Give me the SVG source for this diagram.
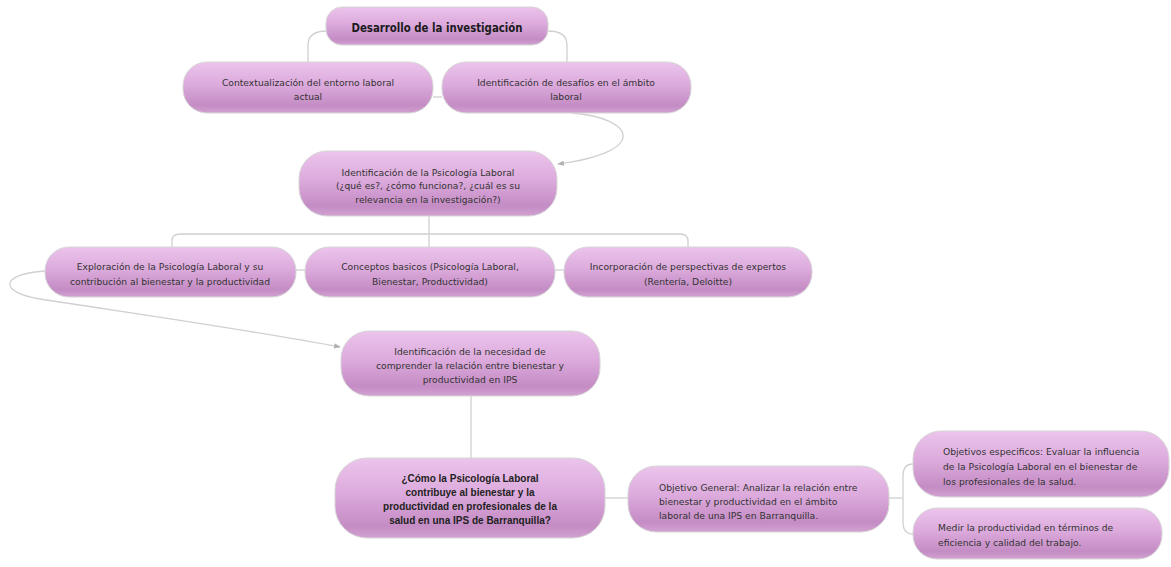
<svg xmlns="http://www.w3.org/2000/svg" width="1171" height="567" viewBox="0 0 1171 567">
<defs>
<linearGradient id="g" x1="0" y1="0" x2="0" y2="1">
<stop offset="0" stop-color="#ebc4eb"/>
<stop offset="0.45" stop-color="#dcaadc"/>
<stop offset="0.85" stop-color="#c48cc4"/>
<stop offset="1" stop-color="#d2a2d2"/>
</linearGradient>
<marker id="arr" viewBox="0 0 10 10" refX="9" refY="5" markerWidth="5" markerHeight="5" orient="auto-start-reverse">
<path d="M0,1 L10,5 L0,9 z" fill="#b0b0b0"/>
</marker>
<style>
.n{fill:url(#g);stroke:#d6d6d6;stroke-width:1}
.t{font-family:"DejaVu Sans","Liberation Sans",sans-serif;font-size:9.2px;fill:#333333;text-anchor:middle}
.l{text-anchor:start}
.b{font-family:"Liberation Sans",Arial,sans-serif;font-weight:bold;font-size:10px;fill:#222;text-anchor:middle}
.c{fill:none;stroke:#d0d0d0;stroke-width:1.3}
</style>
</defs>
<rect width="1171" height="567" fill="#ffffff"/>
<g id="connectors">
<path class="c" d="M327,31 Q308,31 308,45 L308,62"/>
<path class="c" d="M548,31 Q567,31 567,45 L567,62"/>
<path class="c" d="M433,97 L442,97"/>
<path class="c" d="M572,113 C635,118 650,152 558,164" marker-end="url(#arr)"/>
<path class="c" d="M429,216 L429,247"/>
<path class="c" d="M172,247 L172,241 Q172,234 180,234 L680,234 Q688,234 688,241 L688,247"/>
<path class="c" d="M296,270 L305,270"/>
<path class="c" d="M555,270 L564,270"/>
<path class="c" d="M45,271 C0,274 -2,292 40,299 C130,313 250,330 340,347" marker-end="url(#arr)"/>
<path class="c" d="M471,396 L471,458"/>
<path class="c" d="M605,498 L628,498"/>
<path class="c" d="M889,498 L903,498"/>
<path class="c" d="M913,464 Q903,464 903,476 L903,522 Q903,534 913,534"/>
</g>
<g id="n1">
<rect class="n" x="326" y="7" width="222" height="38" rx="16"/>
<text x="437" y="32" font-family="DejaVu Sans Condensed, DejaVu Sans, sans-serif" font-weight="bold" font-size="12.5" fill="#1a1a1a" text-anchor="middle" textLength="171" lengthAdjust="spacingAndGlyphs">Desarrollo de la investigación</text>
</g>
<g id="n2">
<rect class="n" x="183" y="62" width="250" height="51" rx="24"/>
<text class="t" x="308" y="86">Contextualización del entorno laboral</text>
<text class="t" x="308" y="100">actual</text>
</g>
<g id="n3">
<rect class="n" x="442" y="62" width="249" height="51" rx="24"/>
<text class="t" x="566" y="86">Identificación de desafíos en el ámbito</text>
<text class="t" x="566" y="100">laboral</text>
</g>
<g id="n4">
<rect class="n" x="299" y="151" width="258" height="65" rx="28"/>
<text class="t" x="428" y="176">Identificación de la Psicología Laboral</text>
<text class="t" x="428" y="189">(¿qué es?, ¿cómo funciona?, ¿cuál es su</text>
<text class="t" x="428" y="203">relevancia en la investigación?)</text>
</g>
<g id="n5">
<rect class="n" x="45" y="247" width="251" height="50" rx="24"/>
<text class="t" x="170" y="270">Exploración de la Psicología Laboral y su</text>
<text class="t" x="170" y="285">contribución al bienestar y la productividad</text>
</g>
<g id="n6">
<rect class="n" x="305" y="247" width="250" height="50" rx="24"/>
<text class="t" x="430" y="270">Conceptos basicos (Psicología Laboral,</text>
<text class="t" x="430" y="285">Bienestar, Productividad)</text>
</g>
<g id="n7">
<rect class="n" x="564" y="247" width="248" height="50" rx="24"/>
<text class="t" x="688" y="270">Incorporación de perspectivas de expertos</text>
<text class="t" x="688" y="285">(Rentería, Deloitte)</text>
</g>
<g id="n8">
<rect class="n" x="341" y="331" width="259" height="65" rx="28"/>
<text class="t" x="470" y="355">Identificación de la necesidad de</text>
<text class="t" x="470" y="369">comprender la relación entre bienestar y</text>
<text class="t" x="470" y="383">productividad en IPS</text>
</g>
<g id="n9">
<rect class="n" x="335" y="458" width="270" height="80" rx="32"/>
<text class="b" x="470" y="482">¿Cómo la Psicología Laboral</text>
<text class="b" x="470" y="496">contribuye al bienestar y la</text>
<text class="b" x="470" y="510">productividad en profesionales de la</text>
<text class="b" x="470" y="524">salud en una IPS de Barranquilla?</text>
</g>
<g id="n10">
<rect class="n" x="628" y="466" width="261" height="66" rx="28"/>
<text class="t l" x="659" y="491">Objetivo General: Analizar la relación entre</text>
<text class="t l" x="659" y="505">bienestar y productividad en el ámbito</text>
<text class="t l" x="659" y="519">laboral de una IPS en Barranquilla.</text>
</g>
<g id="n11">
<rect class="n" x="913" y="431" width="256" height="66" rx="28"/>
<text class="t l" x="943" y="455">Objetivos especificos: Evaluar la influencia</text>
<text class="t l" x="943" y="470">de la Psicología Laboral en el bienestar de</text>
<text class="t l" x="943" y="485">los profesionales de la salud.</text>
</g>
<g id="n12">
<rect class="n" x="913" y="508" width="249" height="51" rx="24"/>
<text class="t l" x="938" y="531">Medir la productividad en términos de</text>
<text class="t l" x="938" y="546">eficiencia y calidad del trabajo.</text>
</g>
</svg>
